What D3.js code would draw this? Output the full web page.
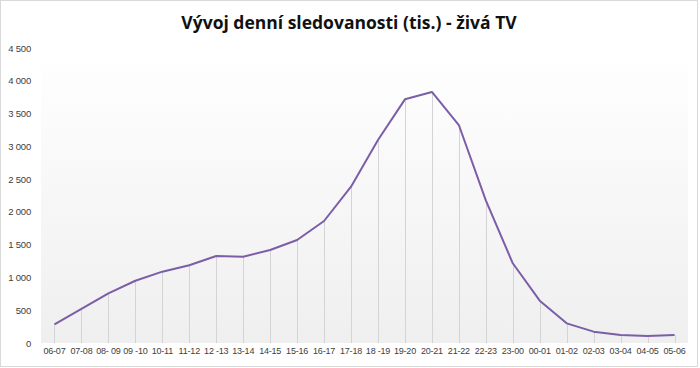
<!DOCTYPE html>
<html><head><meta charset="utf-8">
<script src="https://cdn.jsdelivr.net/npm/d3@7"></script>
<style>body{margin:0;background:#fff}svg{display:block}</style>
</head><body>
<script>
const title = "Vývoj denní sledovanosti (tis.)  - živá TV";
const categories = ["06-07","07-08","08- 09","09 -10","10-11","11-12","12 -13","13-14","14-15","15-16","16-17","17-18","18 -19","19-20","20-21","21-22","22-23","23-00","00-01","01-02","02-03","03-04","04-05","05-06"];
const values = [285,520,758,950,1088,1185,1327,1317,1418,1571,1861,2385,3096,3717,3829,3325,2175,1216,646,300,173,122,107,122];
const yTicks = [0,500,1000,1500,2000,2500,3000,3500,4000,4500];

const W = 700, H = 368;
const svg = d3.select("body").append("svg").attr("width", W).attr("height", H);

svg.append("rect").attr("x",0.5).attr("y",0.5).attr("width",697).attr("height",366)
  .attr("fill","#fff").attr("stroke","#d9d9d9").attr("stroke-width",1);

const plot = {left:41, right:688, top:48, bottom:343};
const x = d3.scaleBand().domain(categories).range([plot.left, plot.right]);
const y = d3.scaleLinear().domain([0,4500]).range([plot.bottom, plot.top]);

const defs = svg.append("defs");
const grad = defs.append("linearGradient").attr("id","bg").attr("x1",0).attr("y1",0).attr("x2",0).attr("y2",1);
grad.append("stop").attr("offset","0%").attr("stop-color","#ffffff");
grad.append("stop").attr("offset","100%").attr("stop-color","#efefef");

svg.append("rect").attr("x",plot.left).attr("y",plot.top)
  .attr("width",plot.right-plot.left).attr("height",plot.bottom-plot.top)
  .attr("fill","url(#bg)");

// drop lines
svg.append("g").selectAll("line").data(values).join("line")
  .attr("x1",(d,i)=>Math.round(x(categories[i])+x.bandwidth()/2)+0.5)
  .attr("x2",(d,i)=>Math.round(x(categories[i])+x.bandwidth()/2)+0.5)
  .attr("y1",d=>y(d)).attr("y2",plot.bottom)
  .attr("stroke","#d4d4d4").attr("stroke-width",1);

// line
const line = d3.line().x((d,i)=>x(categories[i])+x.bandwidth()/2).y(d=>y(d));
svg.append("path").datum(values).attr("d",line)
  .attr("fill","none").attr("stroke","#7b5ea7").attr("stroke-width",2).attr("stroke-linejoin","round");

const tickFont = "'Liberation Sans', Arial, sans-serif";
// y axis
const fmt = d => d3.format(",")(d).replace(/,/g," ");
const yAxis = d3.axisLeft(y).tickValues(yTicks).tickFormat(fmt).tickSize(0).tickPadding(0);
const gy = svg.append("g").attr("transform","translate(31,0)").call(yAxis);
gy.select(".domain").remove();
gy.selectAll("text").attr("font-family",tickFont).attr("font-size",9.5).attr("letter-spacing",-0.2).attr("fill","#404040");

// x axis
const xAxis = d3.axisBottom(x).tickSize(0).tickPadding(0);
const gx = svg.append("g").attr("transform",`translate(0,${plot.bottom+5})`).call(xAxis);
gx.select(".domain").remove();
gx.selectAll("text").attr("font-family",tickFont).attr("font-size",9).attr("letter-spacing",-0.2).attr("fill","#404040");

svg.append("text").attr("x",349).attr("y",29).attr("text-anchor","middle")
  .attr("font-family","'Open Sans', sans-serif").attr("font-weight","bold").attr("font-size",17.5)
  .attr("fill","#111").text(title);
</script>
</body></html>
